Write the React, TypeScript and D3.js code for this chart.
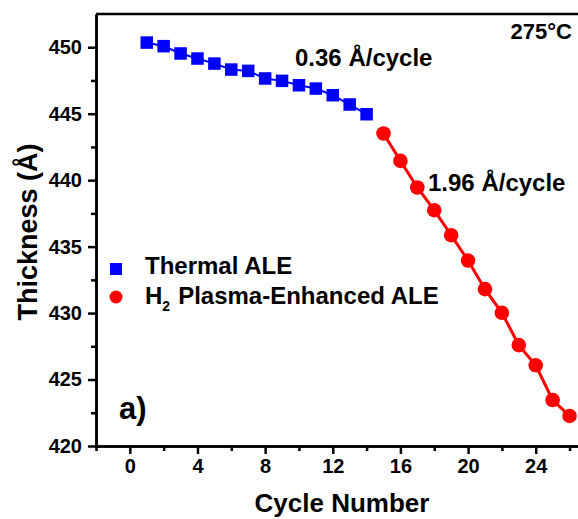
import { useEffect, useRef } from 'react';
import * as d3 from 'd3';

const thermalCycles = [1, 2, 3, 4, 5, 6, 7, 8, 9, 10, 11, 12, 13, 14];
const thermalThickness = [
  450.35, 450.08, 449.53, 449.15, 448.77, 448.32, 448.22, 447.65, 447.47, 447.14, 446.89, 446.39, 445.69,
  444.96,
];
const plasmaCycles = [15, 16, 17, 18, 19, 20, 21, 22, 23, 24, 25, 26];
const plasmaThickness = [
  443.51, 441.45, 439.45, 437.74, 435.86, 433.95, 431.8, 430.02, 427.59, 426.07, 423.46, 422.26,
];
const xMajorTicks = [0, 4, 8, 12, 16, 20, 24];
const xMinorTicks = [-2, 2, 6, 10, 14, 18, 22, 26];
const yMajorTicks = [420, 425, 430, 435, 440, 445, 450];
const yMinorTicks = [422.5, 427.5, 432.5, 437.5, 442.5, 447.5];

const FONT = '"Liberation Sans", Arial, Helvetica, sans-serif';

export default function App() {
  const svgRef = useRef<SVGSVGElement>(null);

  useEffect(() => {
    if (!svgRef.current) return;
    const svg = d3.select(svgRef.current);
    svg.selectAll('*').remove();

    const width = 578;
    const left = 96;
    const top = 14;
    const bottom = 446;

    const x = d3.scaleLinear().domain([-2, 26.5]).range([left, width]);
    const y = d3.scaleLinear().domain([420, 452.5]).range([bottom, top]);

    const g = svg.append('g').attr('font-family', FONT);

    // frame top edge
    g.append('line')
      .attr('x1', left)
      .attr('x2', width)
      .attr('y1', top)
      .attr('y2', top)
      .attr('stroke', '#000')
      .attr('stroke-width', 2.5);

    const styleAxis = (sel: d3.Selection<SVGGElement, unknown, null, undefined>) => {
      sel.selectAll('path').attr('stroke', '#000').attr('stroke-width', 2.5);
      sel.selectAll('line').attr('stroke', '#000').attr('stroke-width', 2.5);
      sel.selectAll('text')
        .attr('font-family', FONT)
        .attr('font-weight', 'bold')
        .attr('font-size', 20)
        .attr('fill', '#000');
    };

    // minor ticks
    g.append('g')
      .attr('transform', `translate(0,${bottom})`)
      .call(d3.axisBottom(x).tickValues(xMinorTicks).tickSize(5).tickSizeOuter(0).tickFormat(() => ''))
      .call(styleAxis);
    g.append('g')
      .attr('transform', `translate(${left},0)`)
      .call(d3.axisLeft(y).tickValues(yMinorTicks).tickSize(5).tickSizeOuter(0).tickFormat(() => ''))
      .call(styleAxis);

    // major ticks
    g.append('g')
      .attr('transform', `translate(0,${bottom})`)
      .call(d3.axisBottom(x).tickValues(xMajorTicks).tickSize(8).tickSizeOuter(0).tickPadding(5).tickFormat(d3.format('d')))
      .call(styleAxis);
    g.append('g')
      .attr('transform', `translate(${left},0)`)
      .call(d3.axisLeft(y).tickValues(yMajorTicks).tickSize(8).tickSizeOuter(0).tickPadding(6).tickFormat(d3.format('d')))
      .call(styleAxis);

    // axis titles
    g.append('text')
      .attr('x', 342)
      .attr('y', 512)
      .attr('text-anchor', 'middle')
      .attr('font-size', 26)
      .attr('font-weight', 'bold')
      .text('Cycle Number');
    g.append('text')
      .attr('transform', `translate(37,${232}) rotate(-90)`)
      .attr('text-anchor', 'middle')
      .attr('font-size', 27)
      .attr('font-weight', 'bold')
      .text('Thickness (Å)');

    // series
    const thermal = thermalCycles.map((c, i) => [c, thermalThickness[i]] as [number, number]);
    const plasma = plasmaCycles.map((c, i) => [c, plasmaThickness[i]] as [number, number]);
    const line = d3
      .line<[number, number]>()
      .x((d) => x(d[0]))
      .y((d) => y(d[1]));

    g.append('path').attr('d', line(thermal)).attr('fill', 'none').attr('stroke', '#0000ff').attr('stroke-width', 2);
    g.append('path').attr('d', line(plasma)).attr('fill', 'none').attr('stroke', '#ff0000').attr('stroke-width', 3);

    const sq = 12.5;
    g.selectAll('.thermal')
      .data(thermal)
      .enter()
      .append('rect')
      .attr('x', (d) => x(d[0]) - sq / 2)
      .attr('y', (d) => y(d[1]) - sq / 2)
      .attr('width', sq)
      .attr('height', sq)
      .attr('fill', '#0000ff');

    g.selectAll('.plasma')
      .data(plasma)
      .enter()
      .append('circle')
      .attr('cx', (d) => x(d[0]))
      .attr('cy', (d) => y(d[1]))
      .attr('r', 7.3)
      .attr('fill', '#ff0000');

    // annotations
    g.append('text').attr('x', 295).attr('y', 66).attr('font-size', 24).attr('font-weight', 'bold').text('0.36 Å/cycle');
    g.append('text').attr('x', 428).attr('y', 191).attr('font-size', 24).attr('font-weight', 'bold').text('1.96 Å/cycle');
    g.append('text')
      .attr('x', 572)
      .attr('y', 39)
      .attr('text-anchor', 'end')
      .attr('font-size', 22)
      .attr('font-weight', 'bold')
      .text('275°C');
    g.append('text').attr('x', 119).attr('y', 419).attr('font-size', 31).attr('font-weight', 'bold').text('a)');

    // legend
    g.append('rect').attr('x', 110).attr('y', 263).attr('width', 12).attr('height', 12).attr('fill', '#0000ff');
    g.append('text').attr('x', 145).attr('y', 274).attr('font-size', 24).attr('font-weight', 'bold').text('Thermal ALE');
    g.append('circle').attr('cx', 116).attr('cy', 297).attr('r', 6.5).attr('fill', '#ff0000');
    const t2 = g.append('text').attr('x', 145).attr('y', 304).attr('font-size', 24).attr('font-weight', 'bold');
    t2.append('tspan').text('H');
    t2.append('tspan').attr('font-size', 14).attr('dy', 7).text('2');
    t2.append('tspan').attr('dy', -7).attr('dx', 8).text('Plasma-Enhanced ALE');
  }, []);

  return (
    <svg
      ref={svgRef}
      width={578}
      height={519}
      style={{ position: 'absolute', left: 0, top: 0, background: '#fff' }}
    />
  );
}
